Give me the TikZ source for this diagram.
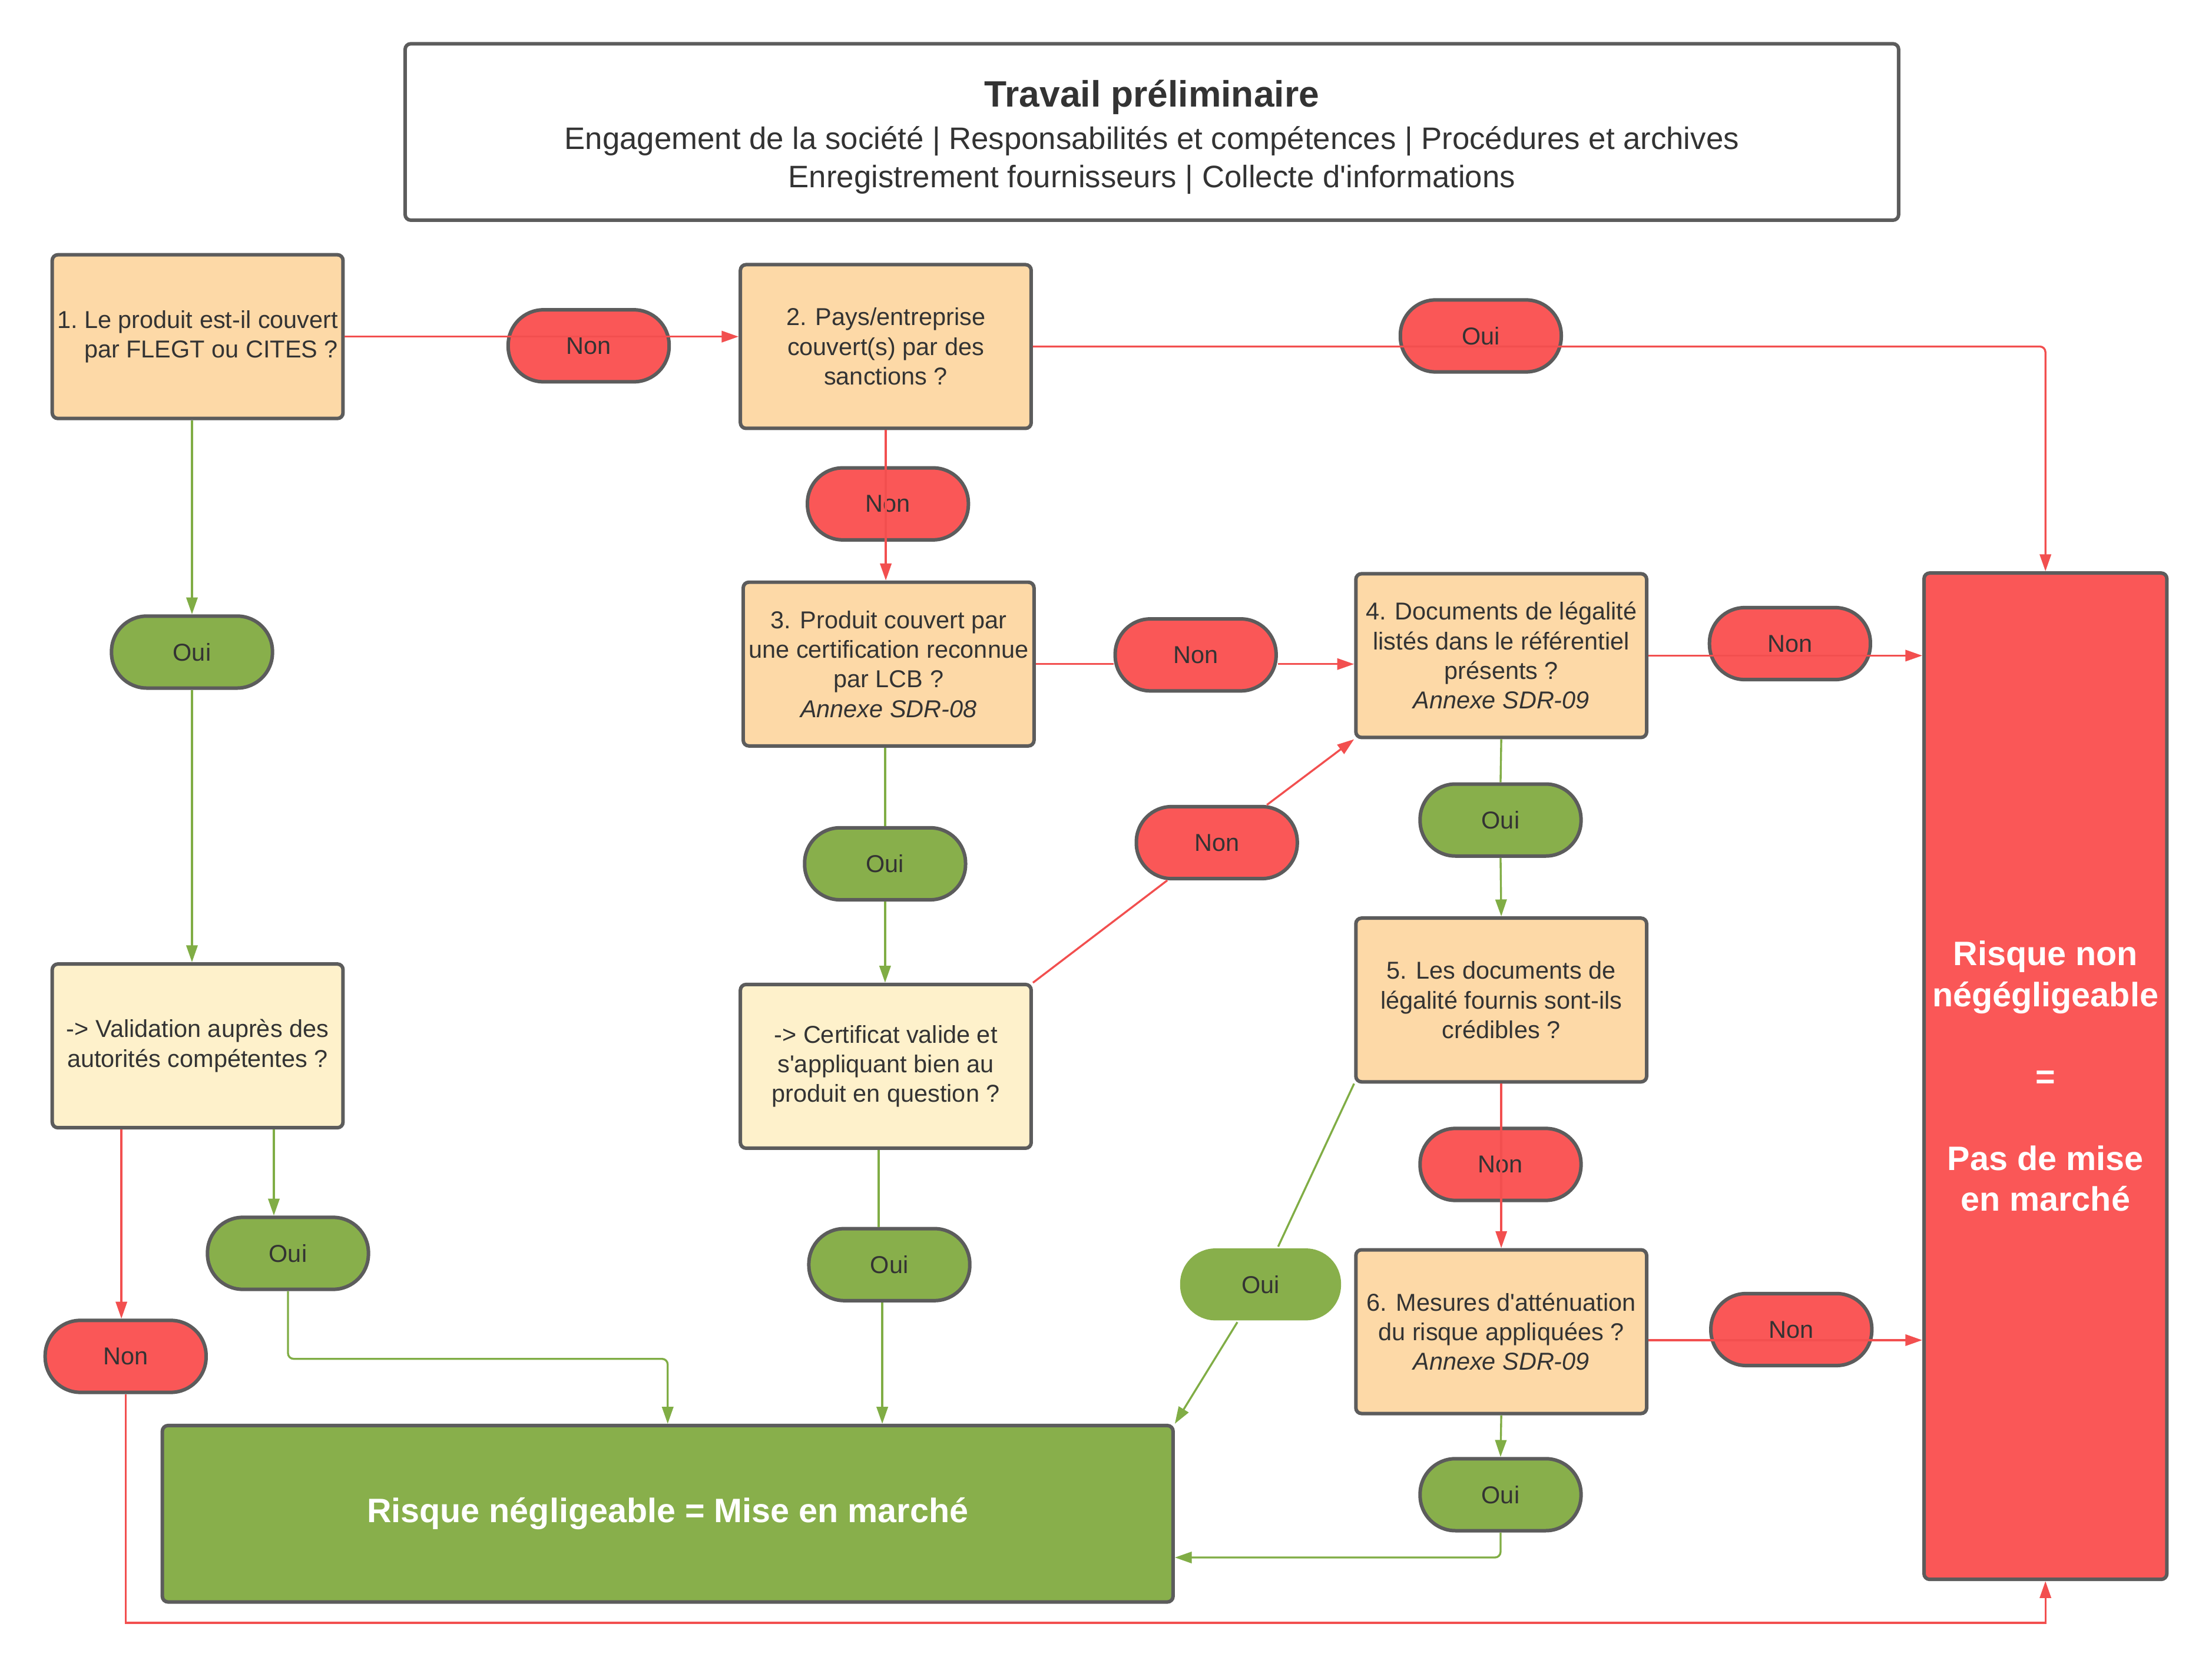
\documentclass[tikz,border=0pt]{standalone}
\usepackage{fontspec}
\setmainfont{Liberation Sans}[Ligatures=TeXOff]
\usepackage{xcolor}
\usepackage{tikz}
\usetikzlibrary{arrows.meta, positioning}
\definecolor{peach}{HTML}{FDD9A7}
\definecolor{cream}{HTML}{FEF1CB}
\definecolor{riskred}{HTML}{FA5757}
\definecolor{okgreen}{HTML}{88AF4B}
\definecolor{edgegray}{HTML}{5C5C5C}
\definecolor{txtgray}{HTML}{333333}
\definecolor{linered}{HTML}{F24F4F}
\definecolor{linegreen}{HTML}{80AD45}
\newcommand{\boxfont}{\fontsize{17.3}{21}\selectfont}
\newcommand{\riskfont}{\fontsize{24}{29}\selectfont\bfseries}
\newcommand{\hdrtitle}{\fontsize{26}{30}\selectfont\bfseries}
\newcommand{\hdrsub}{\fontsize{22}{27}\selectfont}

\tikzset{
  qbox/.style={draw=edgegray, line width=2.5pt, rounded corners=4pt, fill=peach,
    minimum width=206pt, minimum height=116pt, inner sep=1pt, align=center,
    text=txtgray, font=\boxfont},
  subbox/.style={qbox, fill=cream},
  pill/.style={draw=edgegray, line width=2.5pt, rounded corners=25pt,
    minimum width=114pt, minimum height=51pt, inner sep=0pt, text=txtgray, font=\boxfont},
  nonpill/.style={pill, fill=riskred},
  ouipill/.style={pill, fill=okgreen},
  redline/.style={draw=linered, line width=1.4pt},
  redarrow/.style={redline, -{Triangle[length=12pt,width=8pt]}},
  greenline/.style={draw=linegreen, line width=1.4pt},
  greenarrow/.style={greenline, -{Triangle[length=12pt,width=8pt]}}
}

\begin{document}
\begin{tikzpicture}[x=1pt, y=-1pt]
  \useasboundingbox[fill=white] (0,0) rectangle (1567,1181);

  % header
  \node[qbox, fill=white, minimum width=1058pt, minimum height=125pt, font=\hdrsub] (prelim) at (816,93.5)
    {{\hdrtitle\rule{0pt}{26pt}Travail préliminaire}\\[3pt]
     Engagement de la société | Responsabilités et compétences | Procédures et archives\\
     Enregistrement fournisseurs | Collecte d'informations};

  % questions
  \node[qbox, align=left] (b1) at (140,238.5)
    {1.~Le produit est-il couvert\\ \phantom{1.~}par FLEGT ou CITES ?};
  \node[qbox] (b2) at (627.5,245.5) {2. Pays/entreprise\\couvert(s) par des\\sanctions ?};
  \node[qbox] (b3) at (629.5,470.5)
    {3. Produit couvert par\\une certification reconnue\\par LCB ?\\\textit{Annexe SDR-08}};
  \node[qbox] (b4) at (1063.5,464.5)
    {4. Documents de légalité\\listés dans le référentiel\\présents ?\\\textit{Annexe SDR-09}};
  \node[qbox] (b5) at (1063.5,708.5) {5. Les documents de\\légalité fournis sont-ils\\crédibles ?};
  \node[qbox] (b6) at (1063.5,943.5)
    {6. Mesures d'atténuation\\du risque appliquées ?\\\textit{Annexe SDR-09}};
  \node[subbox] (valid) at (140,741) {-> Validation auprès des\\autorités compétentes ?};
  \node[subbox] (cert) at (627.5,755.5) {-> Certificat valide et\\s'appliquant bien au\\produit en question ?};

  % outcomes
  \node[qbox, fill=okgreen, minimum width=716pt, minimum height=125pt, text=white, font=\riskfont]
    (okbox) at (473,1072.5) {Risque négligeable = Mise en marché};
  \node[qbox, fill=riskred, minimum width=172pt, minimum height=713pt, text=white, font=\riskfont]
    (riskbox) at (1449,762.5) {Risque non\\négégligeable\\[29pt]=\\[29pt]Pas de mise\\en marché};

  % answers
  \foreach \nm/\x/\y in {non1/417/245, non2/629/357, non3/847/464, non4/1268/456,
                         nonD/862/597, non5/1063/825, non6/89/961, non7/1269/942}
    \node[nonpill] (\nm) at (\x,\y) {Non};
  \node[nonpill] (ouiR) at (1049,238) {Oui};
  \foreach \nm/\x/\y in {ouiA/136/462, ouiB/627/612, ouiC/1063/581,
                         ouiE/204/888, ouiF/630/896, ouiG/1063/1059}
    \node[ouipill] (\nm) at (\x,\y) {Oui};
  \node[ouipill, draw=none] (ouiD) at (893,910) {Oui};

  % Q1
  \draw[redarrow] (b1.east) -- (b1.east -| b2.west);
  \draw[greenarrow] (ouiA.north |- b1.south) -- (ouiA.north);
  \draw[greenarrow] (ouiA.south) -- (ouiA.south |- valid.north);
  \draw[redarrow] ([xshift=-54pt]valid.south) -- ([xshift=-54pt]valid.south |- non6.north);
  \draw[redarrow] (non6.south) -- ++(0,162) -| (riskbox.south);
  \draw[greenarrow] ([xshift=54pt]valid.south) -- ([xshift=54pt]valid.south |- ouiE.north);
  \draw[greenarrow, rounded corners=4pt] (ouiE.south) -- ++(0,48) -| (okbox.north);

  % Q2
  \draw[redarrow, rounded corners=4pt] (b2.east) -| (riskbox.north);
  \draw[redarrow] (b2.south) -- (b2.south |- b3.north);

  % Q3
  \draw[redline] (b3.east) -- (b3.east -| non3.west);
  \draw[redarrow] (b3.east -| non3.east) -- (b3.east -| b4.west);
  \draw[greenline] (ouiB.north |- b3.south) -- (ouiB.north);
  \draw[greenarrow] (ouiB.south) -- (ouiB.south |- cert.north);
  \draw[redline] (cert.north east) -- (nonD);
  \draw[redarrow] (nonD) -- (b4.south west);
  \draw[greenline] ([xshift=-5pt]cert.south) -- ([xshift=-5pt]cert.south |- ouiF.north);
  \draw[greenarrow] ([xshift=-5pt]ouiF.south) -- ([xshift=-5pt]ouiF.south |- okbox.north);

  % Q4
  \draw[redarrow] (b4.east) -- (b4.east -| riskbox.west);
  \draw[greenline] (b4.south) -- (ouiC.north);
  \draw[greenarrow] (ouiC.south) -- (b5.north);

  % Q5
  \draw[redarrow] (b5.south) -- (b6.north);
  \draw[greenline] (b5.south west) -- (ouiD);
  \draw[greenarrow] (ouiD) -- (okbox.north east);

  % Q6
  \draw[redarrow] ([yshift=-6pt]b6.east) -- ([yshift=-6pt]b6.east -| riskbox.west);
  \draw[greenarrow] (b6.south) -- (ouiG.north);
  \draw[greenarrow, rounded corners=4pt] (ouiG.south) |- ([yshift=-31pt]okbox.east);
\end{tikzpicture}
\end{document}
